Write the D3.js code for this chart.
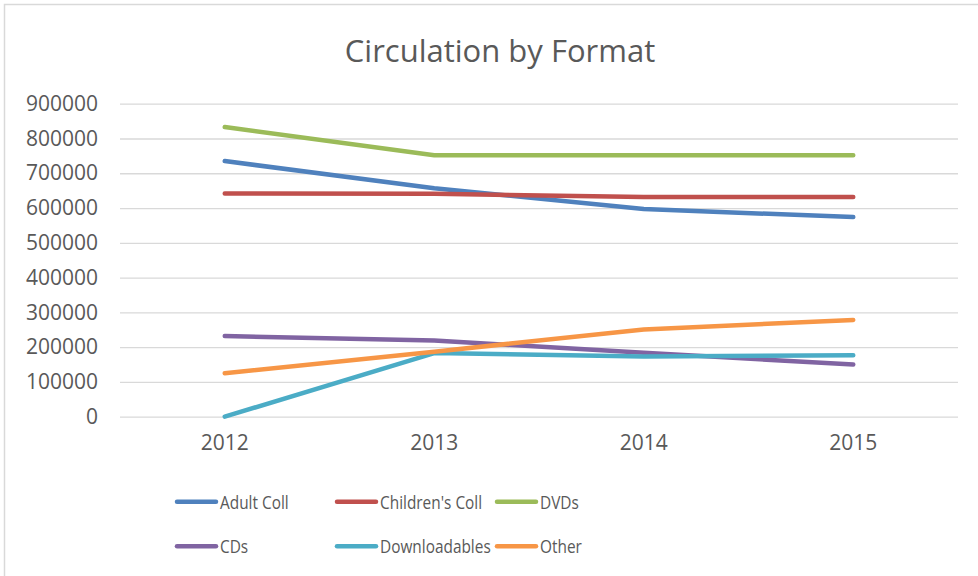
<!DOCTYPE html>
<html>
<head>
<meta charset="utf-8">
<script src="https://cdn.jsdelivr.net/npm/d3@7"></script>
<style>
  body { margin: 0; background: #fff; }
  svg text { font-family: "Open Sans", sans-serif; fill: #595959; }
</style>
</head>
<body>
<svg id="chart" width="978" height="576"></svg>
<script>

// chart data
var years = ["2012", "2013", "2014", "2015"];
var yTicks = [0, 100000, 200000, 300000, 400000, 500000, 600000, 700000, 800000, 900000];

var adultColl = [735000, 657000, 597000, 574000];
var childrensColl = [642000, 641000, 632000, 632000];
var dvds = [833000, 752000, 752000, 752000];
var cds = [232000, 219000, 184000, 150000];
var downloadables = [0, 183000, 173000, 177000];
var other = [125000, 187000, 251000, 278000];

var seriesNames = ["Adult Coll", "Children's Coll", "DVDs", "CDs", "Downloadables", "Other"];
var seriesColours = ["#4F81BD", "#C0504D", "#9BBB59", "#8064A2", "#4BACC6", "#F79646"];

var series = [adultColl, childrensColl, dvds, cds, downloadables, other].map(function(vals, i) {
    return { name: seriesNames[i], colour: seriesColours[i], values: vals };
});

var svg = d3.select("#chart");

// outer chart border
svg.append("rect")
    .attr("x", 4.5).attr("y", 4.5)
    .attr("width", 990).attr("height", 600)
    .attr("fill", "none")
    .attr("stroke", "#D9D9D9")
    .attr("stroke-width", 1.5);

// title
svg.append("text")
    .attr("x", 500)
    .attr("y", 62)
    .attr("text-anchor", "middle")
    .style("font-size", "31px")
    .text("Circulation by Format");

var plot = { left: 120, right: 958, top: 103.7, bottom: 416.7 };

var x = d3.scaleBand()
    .domain(years)
    .range([plot.left, plot.right]);

var y = d3.scaleLinear()
    .domain([0, 900000])
    .range([plot.bottom, plot.top]);

// gridlines + y labels
var yAxis = d3.axisLeft(y)
    .tickValues(yTicks)
    .tickFormat(d3.format("d"))
    .tickSize(-(plot.right - plot.left))
    .tickPadding(22);

var gy = svg.append("g")
    .attr("class", "y axis")
    .attr("transform", "translate(" + plot.left + ",0)")
    .call(yAxis);

gy.select(".domain").remove();
gy.selectAll(".tick line")
    .attr("stroke", "#D9D9D9")
    .attr("stroke-width", 1.3);
gy.selectAll(".tick text")
    .style("font-size", "21px")
    .attr("fill", "#595959");

// x labels
var xAxis = d3.axisBottom(x).tickSize(0).tickPadding(18);

var gx = svg.append("g")
    .attr("class", "x axis")
    .attr("transform", "translate(0," + plot.bottom + ")")
    .call(xAxis);

gx.select(".domain").remove();
gx.selectAll(".tick text")
    .style("font-size", "21px")
    .attr("fill", "#595959");

// lines
var line = d3.line()
    .x(function(d, i) { return x(years[i]) + x.bandwidth() / 2; })
    .y(function(d) { return y(d); });

svg.selectAll(".series-line")
    .data(series)
    .enter().append("path")
    .attr("class", "series-line")
    .attr("d", function(d) { return line(d.values); })
    .attr("fill", "none")
    .attr("stroke", function(d) { return d.colour; })
    .attr("stroke-width", 4.5)
    .attr("stroke-linecap", "round")
    .attr("stroke-linejoin", "round");

// legend, 3 columns x 2 rows
var legend = svg.selectAll(".legend-item")
    .data(series)
    .enter().append("g")
    .attr("class", "legend-item")
    .attr("transform", function(d, i) {
        return "translate(" + (177 + (i % 3) * 160) + "," + (501.7 + Math.floor(i / 3) * 44.5) + ")";
    });

legend.append("line")
    .attr("x1", 0).attr("x2", 39)
    .attr("y1", 0).attr("y2", 0)
    .attr("stroke", function(d) { return d.colour; })
    .attr("stroke-width", 4.5)
    .attr("stroke-linecap", "round");

// legend font is narrower than Open Sans, squeeze it a bit
legend.append("text")
    .attr("x", 43)
    .attr("y", 7)
    .style("font-size", "19px")
    .text(function(d) { return d.name; })
    .attr("lengthAdjust", "spacingAndGlyphs")
    .attr("textLength", function() { return this.getComputedTextLength() * 0.81; });

</script>
</body>
</html>
